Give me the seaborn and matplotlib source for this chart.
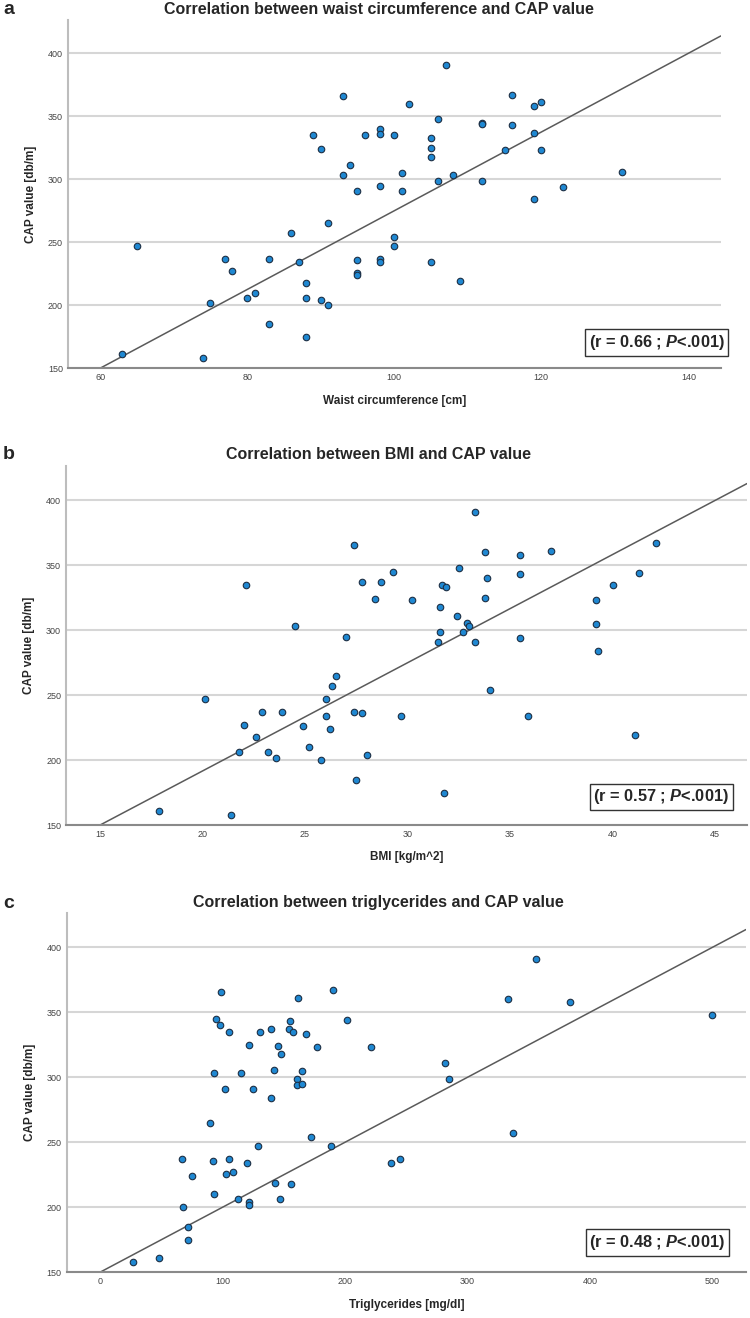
#!/usr/bin/env python3
"""
Purpose: CAP value vs. waist / BMI / triglycerides scatter plots
"""

import matplotlib
matplotlib.use('Agg')
import matplotlib.pyplot as plt
import pandas as pd
import seaborn as sns
from matplotlib import font_manager

# --------------------------------------------------
# data
cap_ticks = [150, 200, 250, 300, 350, 400]

waist = [107, 93, 102, 116, 120, 119, 106, 112, 112, 116, 89, 98, 98, 96,
         100, 105, 119, 90, 105, 105, 115, 120, 94, 93, 101, 108, 106, 112,
         131, 95, 98, 101, 123, 119,
         91, 86, 100, 100, 65, 77, 83, 95, 98, 98, 87, 105, 78, 95, 95, 88,
         109, 81, 80, 88, 90, 75, 91, 83, 88, 63, 74]
cap_waist = [391, 366, 360, 367, 361, 358, 348, 345, 344, 343, 335, 340, 336,
             335, 335, 333, 337, 324, 325, 318, 323, 323, 311, 303, 305, 303,
             299, 299, 306, 291, 295, 291, 294, 284,
             265, 257, 254, 247, 247, 237, 237, 236, 237, 234, 234, 234, 227,
             226, 224, 218, 219, 210, 206, 206, 204, 202, 200, 185, 175, 161,
             158]
waist_ticks = [60, 80, 100, 120, 140]
# two points the drawn line passes through (waist, CAP)
waist_line = [(60, 150), (140, 400)]

bmi = [33.3, 27.4, 42.1, 33.8, 35.5, 37.0, 32.5, 29.3, 41.3, 35.5, 33.9, 22.1,
       27.8, 28.7, 31.7, 31.9, 40.0, 28.4, 30.2, 33.8, 39.2, 31.6, 32.4, 24.5,
       32.9, 33.0, 39.2, 31.6, 32.7, 27.0, 31.5, 33.3, 35.5,
       39.3, 26.5, 26.3, 34.0, 20.1, 26.0, 22.9, 23.9, 27.4, 27.8, 26.0, 29.7,
       35.9, 22.0, 24.9, 26.2, 22.6, 41.1, 25.2, 21.8, 23.2, 23.6, 28.0, 25.8,
       27.5, 31.8, 17.9, 21.4]
cap_bmi = [391, 366, 367, 360, 358, 361, 348, 345, 344, 343, 340, 335, 337,
           337, 335, 333, 335, 324, 323, 325, 323, 318, 311, 303, 306, 303,
           305, 299, 299, 295, 291, 291, 294,
           284, 265, 257, 254, 247, 247, 237, 237, 237, 236, 234, 234, 234,
           227, 226, 224, 218, 219, 210, 206, 206, 202, 204, 200, 185, 175,
           161, 158]
bmi_ticks = [15, 20, 25, 30, 35, 40, 45]
bmi_line = [(15, 150), (45, 400)]

trig = [356, 99, 190, 162, 333, 384, 500, 95, 202, 155, 98, 140, 154, 105,
        131, 158, 168, 122, 145, 177, 221, 148, 282, 142, 165, 93, 115, 161,
        285,
        102, 125, 161, 165, 140, 90, 337, 172, 129, 189, 67, 92, 105, 120,
        238, 245, 75, 103, 109, 143, 156, 93, 113, 147, 122, 122, 68, 72, 72,
        48, 27]
cap_trig = [391, 366, 367, 361, 360, 358, 348, 345, 344, 343, 340, 337, 337,
            335, 335, 335, 333, 325, 324, 323, 323, 318, 311, 306, 305, 303,
            303, 299, 299,
            291, 291, 294, 295, 284, 265, 257, 254, 247, 247, 237, 236, 237,
            234, 234, 237, 224, 226, 227, 219, 218, 210, 206, 206, 204, 202,
            200, 185, 175, 161, 158]
trig_ticks = [0, 100, 200, 300, 400, 500]
trig_line = [(0, 150), (500, 400)]

DOT = '#1f88d2'
EDGE = '#1d2f44'
LINE = '#5a5a5a'


# --------------------------------------------------
def pick_font():
    """Arial look-alike if present"""
    names = {f.name for f in font_manager.fontManager.ttflist}
    for name in ['Liberation Sans', 'Arial', 'DejaVu Sans']:
        if name in names:
            return name
    return 'DejaVu Sans'


# --------------------------------------------------
def draw_panel(fig, rect, x, y, xname, xlim, xticks, xlabel, line):
    """one scatter + fit line panel"""
    ax = fig.add_axes(rect)
    df = pd.DataFrame({xname: x, 'cap': y})

    sns.scatterplot(data=df, x=xname, y='cap', ax=ax, color=DOT, s=22,
                    edgecolor=EDGE, linewidth=0.8, alpha=1, zorder=3)
    ax.axline(line[0], line[1], color=LINE, lw=1.1, zorder=2)
    ax.set_xlim(*xlim)
    ax.set_ylim(150, 426.5)

    ax.set_xticks(xticks)
    ax.set_yticks(cap_ticks)
    ax.tick_params(length=0, pad=3.5, labelsize=6.5, labelcolor='#444444')

    ax.yaxis.grid(True, color='#d6d6d6', lw=1.5)
    ax.xaxis.grid(False)
    ax.set_axisbelow(True)

    for side in ['top', 'right']:
        ax.spines[side].set_visible(False)
    ax.spines['left'].set_color('#bdbdbd')
    ax.spines['left'].set_linewidth(1.5)
    ax.spines['bottom'].set_color('#8a8a8a')
    ax.spines['bottom'].set_linewidth(1.5)

    ax.set_xlabel(xlabel, fontsize=8.5, fontweight='bold', labelpad=9)
    ax.set_ylabel('CAP value [db/m]', fontsize=8.5, fontweight='bold',
                  labelpad=8)
    return ax


# --------------------------------------------------
def main():
    """Make the figure"""
    sns.set_theme(style='white')
    font = pick_font()
    plt.rcParams['font.family'] = [font, 'DejaVu Sans']
    plt.rcParams['mathtext.fontset'] = 'custom'
    plt.rcParams['mathtext.it'] = font + ':italic:bold'
    plt.rcParams['mathtext.rm'] = font + ':bold'

    fig = plt.figure(figsize=(7.5, 13.18), dpi=100)

    panels = [
        dict(rect=[0.0903, 0.7206, 0.8707, 0.2643], x=waist, y=cap_waist,
             xname='waist', xlim=(55.6, 144.4), xticks=waist_ticks,
             xlabel='Waist circumference [cm]', line=waist_line,
             title='Correlation between waist circumference and CAP value',
             letter='a', ty=1 - 10 / 1318, stat='(r = 0.66 ; $P$<.001)',
             sx=0.966, sy=1 - 342.5 / 1318),
        dict(rect=[0.0880, 0.3740, 0.9080, 0.2724], x=bmi, y=cap_bmi,
             xname='bmi', xlim=(13.34, 46.56), xticks=bmi_ticks,
             xlabel='BMI [kg/m^2]', line=bmi_line,
             title='Correlation between BMI and CAP value',
             letter='b', ty=1 - 455 / 1318, stat='(r = 0.57 ; $P$<.001)',
             sx=0.972, sy=1 - 797 / 1318),
        dict(rect=[0.0889, 0.0347, 0.9057, 0.2726], x=trig, y=cap_trig,
             xname='trig', xlim=(-27.2, 527.5), xticks=trig_ticks,
             xlabel='Triglycerides [mg/dl]', line=trig_line,
             title='Correlation between triglycerides and CAP value',
             letter='c', ty=1 - 903 / 1318, stat='(r = 0.48 ; $P$<.001)',
             sx=0.967, sy=1 - 1242.5 / 1318),
    ]

    for p in panels:
        draw_panel(fig, p['rect'], p['x'], p['y'], p['xname'], p['xlim'],
                   p['xticks'], p['xlabel'], p['line'])
        fig.text(0.505, p['ty'], p['title'], ha='center', va='center',
                 fontsize=11.5, fontweight='bold')
        fig.text(0.004, p['ty'], p['letter'], ha='left', va='center',
                 fontsize=14, fontweight='bold')
        fig.text(p['sx'], p['sy'], p['stat'], ha='right', va='center',
                 fontsize=11.8, fontweight='bold',
                 bbox=dict(boxstyle='square,pad=0.22', fc='white',
                           ec='#333333', lw=1))

    fig.savefig('out.png', dpi=100)


# --------------------------------------------------
if __name__ == '__main__':
    main()
